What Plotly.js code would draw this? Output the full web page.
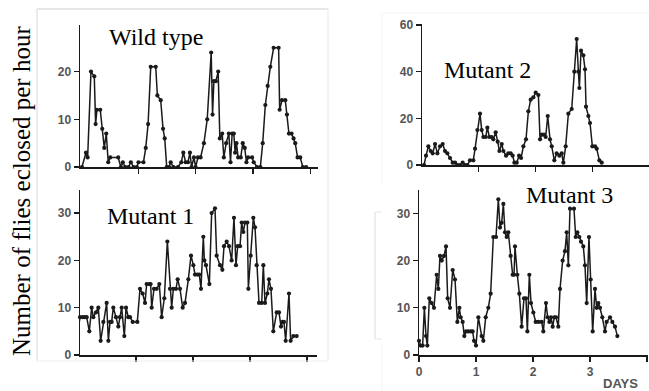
<!DOCTYPE html>
<html>
<head>
<meta charset="utf-8">
<script src="https://cdn.plot.ly/plotly-3.0.1.min.js"></script>
<style>html,body{margin:0;padding:0;background:#fff;}#chart{width:649px;height:391px;}</style>
</head>
<body>
<div id="chart"></div>
<script>
// ---------- DATA (days, flies eclosed per hour) ----------
const wildDays = [0.017,0.087,0.116,0.174,0.232,0.255,0.278,0.336,0.371,0.406,
0.441,0.475,0.510,0.649,0.696,0.730,0.771,0.829,0.870,0.916,
0.974,1.003,1.090,1.130,1.171,1.217,1.304,1.333,1.391,1.432,
1.461,1.496,1.536,1.565,1.612,1.693,1.751,1.786,1.826,1.867,
1.901,1.930,1.971,2.000,2.041,2.087,2.145,2.203,2.272,2.296,
2.319,2.354,2.394,2.423,2.464,2.493,2.533,2.580,2.609,2.638,
2.667,2.690,2.713,2.742,2.788,2.823,2.858,2.887,2.916,2.986,
3.014,3.072,3.130,3.171,3.217,3.258,3.304,3.362,3.449,3.467,
3.507,3.565,3.594,3.629,3.675,3.710,3.739,3.780,3.826,3.872,3.930];
const wildFlies = [0,3,2,20,19,9,12,12,8,4,
7,1,2,2,0,1,0,0,1,0,
0,1,1,4,9,21,21,15,14,8,
6,0,0,1,0,0,1,3,1,1,
3,0,2,0,2,2,5,10,24,11,
18,18,20,6,7,2,5,7,1,7,
7,3,5,2,2,5,4,1,2,2,
1,0,0,5,13,17,21,25,25,12,
14,14,11,7,7,6,5,2,2,0,0];

const mut1Days = [-0.029,0.018,0.064,0.105,0.135,0.181,0.222,0.251,0.298,0.339,
0.380,0.427,0.485,0.515,0.544,0.573,0.602,0.649,0.690,0.719,
0.749,0.795,0.825,0.865,0.895,0.942,1.023,1.070,1.117,1.158,
1.187,1.234,1.257,1.275,1.316,1.363,1.409,1.450,1.497,1.550,
1.596,1.626,1.655,1.702,1.731,1.772,1.819,1.860,1.918,1.965,
2.006,2.035,2.076,2.111,2.140,2.181,2.199,2.228,2.287,2.327,
2.386,2.415,2.474,2.515,2.544,2.591,2.632,2.678,2.719,2.754,
2.784,2.825,2.854,2.883,2.912,2.953,2.971,3.012,3.058,3.088,
3.117,3.158,3.205,3.234,3.263,3.304,3.333,3.368,3.409,3.468,
3.509,3.544,3.573,3.596,3.626,3.684,3.713,3.760,3.819];
const mut1Flies = [4,8,8,8,8,5,10,8,9,10,
3,7,11,3,7,7,10,8,6,8,
10,4,10,8,8,7,7,14,13,11,
15,15,15,10,14,14,15,8,12,24,
14,10,14,14,16,14,10,11,16,21,
19,17,17,17,14,25,20,19,15,30,
31,21,19,18,23,24,23,20,29,19,
23,23,28,26,28,28,14,21,29,27,
19,11,11,19,11,13,16,14,5,9,
9,6,7,7,3,13,3,4,4];

const mut2Days = [0.000,0.041,0.076,0.117,0.158,0.193,0.234,0.275,0.322,0.368,
0.409,0.450,0.497,0.544,0.585,0.626,0.673,0.719,0.760,0.801,
0.848,0.906,0.936,0.977,1.023,1.053,1.082,1.123,1.152,1.187,
1.228,1.257,1.298,1.333,1.363,1.404,1.433,1.480,1.520,1.561,
1.596,1.626,1.667,1.708,1.743,1.784,1.830,1.871,1.912,1.959,
2.000,2.047,2.076,2.105,2.146,2.175,2.211,2.251,2.281,2.327,
2.368,2.415,2.456,2.485,2.526,2.573,2.632,2.678,2.719,2.749,
2.766,2.795,2.836,2.865,2.883,2.924,2.953,2.994,3.041,3.070,
3.117,3.158];
const mut2Flies = [0,0,4,8,6,5,9,5,8,9,
6,5,3,1,1,0,0,1,0,0,
2,2,7,15,22,15,12,12,16,12,
12,11,14,10,6,9,6,4,5,5,
4,1,1,4,3,8,11,23,28,29,
31,30,11,13,13,12,21,11,8,2,
5,4,5,1,8,22,24,40,54,40,
33,49,47,41,25,21,18,8,8,7,
2,1];

const mut3Days = [0.000,0.029,0.064,0.094,0.123,0.146,0.181,0.222,0.263,0.310,
0.339,0.368,0.398,0.439,0.474,0.503,0.544,0.591,0.632,0.673,
0.708,0.731,0.766,0.795,0.825,0.865,0.912,0.942,0.965,1.000,
1.041,1.099,1.129,1.170,1.216,1.257,1.304,1.351,1.392,1.421,
1.450,1.480,1.509,1.538,1.567,1.608,1.643,1.667,1.684,1.725,
1.760,1.801,1.842,1.877,1.901,1.936,1.965,2.006,2.047,2.094,
2.152,2.181,2.228,2.257,2.287,2.316,2.345,2.374,2.404,2.444,
2.474,2.520,2.561,2.591,2.620,2.649,2.719,2.749,2.778,2.813,
2.842,2.883,2.912,2.942,2.982,3.012,3.047,3.088,3.117,3.146,
3.175,3.216,3.263,3.292,3.351,3.392,3.439,3.480];
const mut3Flies = [3,2,2,10,4,2,12,11,10,17,
14,21,20,21,23,12,10,18,16,7,
10,8,7,4,5,5,5,5,3,2,
8,4,3,8,10,13,25,25,33,27,
28,32,26,25,26,21,17,17,23,17,
13,6,12,12,5,17,11,9,7,7,
7,5,11,8,7,8,6,8,8,6,
14,20,22,26,19,31,31,25,26,25,
24,23,19,11,25,16,5,14,10,11,
10,8,5,7,8,7,6,4];

const panelTitles = ["Wild type","Mutant 1","Mutant 2","Mutant 3"];
const yTicksWild = [0,10,20];
const yTicksMut1 = [0,10,20,30];
const yTicksMut2 = [0,20,40,60];
const yTicksMut3 = [0,10,20,30];
const dayTicks = [0,1,2,3,4];
const yAxisTitle = "Number of flies eclosed per hour";
const xAxisTitle = "DAYS";

// ---------- LAYOUT GEOMETRY ----------
const W = 649, H = 391;
const fx = p => p / W, fy = p => 1 - p / H;
// origin (ox,oy), px per day (sx), px per unit (sy), box edges
const geo = [
  {ox:81, oy:167, sx:57.3, sy:4.77, xL:80, xR:318, yB:167, yT:25},
  {ox:79, oy:355, sx:57.0, sy:4.73, xL:80, xR:317, yB:355, yT:190},
  {ox:421.7, oy:165, sx:57.0, sy:2.333, xL:422, xR:649, yB:165, yT:24},
  {ox:419, oy:355, sx:57.0, sy:4.72, xL:419, xR:648, yB:355, yT:190}
];
const series = [[wildDays,wildFlies],[mut1Days,mut1Flies],[mut2Days,mut2Flies],[mut3Days,mut3Flies]];
const yTicks = [yTicksWild,yTicksMut1,yTicksMut2,yTicksMut3];

const ink = '#1a1a1a';
const tickFont = {family:'Liberation Sans, Arial, sans-serif', size:12, color:'#555', weight:'bold'};
const data = [];
const layout = {
  width: W, height: H,
  margin: {l:0, r:0, t:0, b:0},
  paper_bgcolor: '#fff', plot_bgcolor: 'rgba(0,0,0,0)',
  showlegend: false,
  annotations: [], shapes: []
};

series.forEach((s, i) => {
  const n = i === 0 ? '' : String(i + 1);
  const g = geo[i];
  data.push({
    x: s[0], y: s[1], xaxis: 'x' + n, yaxis: 'y' + n,
    type: 'scatter', mode: 'lines+markers', cliponaxis: false,
    line: {color: ink, width: 1.5},
    marker: {color: ink, size: 4.2}
  });
  layout['xaxis' + n] = {
    domain: [fx(g.xL), fx(g.xR)],
    range: [(g.xL - g.ox) / g.sx, (g.xR - g.ox) / g.sx],
    anchor: 'y' + n, showgrid: false, zeroline: false,
    showline: true, linecolor: ink, linewidth: 1.5,
    ticks: 'outside', ticklen: 5, tickwidth: 1.3, tickcolor: ink,
    tickmode: 'array', tickvals: i === 3 ? dayTicks : dayTicks.slice(1),
    showticklabels: i === 3, tickfont: {family:'Liberation Sans, Arial, sans-serif', size:12, color:'#555', weight:'bold'}
  };
  layout['yaxis' + n] = {
    domain: [fy(g.yB), fy(g.yT)],
    range: [(g.oy - g.yB) / g.sy, (g.oy - g.yT) / g.sy],
    anchor: 'x' + n, showgrid: false, zeroline: false,
    showline: true, linecolor: ink, linewidth: 1.5,
    ticks: 'outside', ticklen: 5, tickwidth: 1.3, tickcolor: ink,
    tickmode: 'array', tickvals: yTicks[i], tickfont: tickFont
  };
});

const titlePos = [[107,37],[105,216],[442,70],[524,195]];
panelTitles.forEach((t, i) => {
  layout.annotations.push({
    text: t, xref: 'paper', yref: 'paper', x: fx(titlePos[i][0]), y: fy(titlePos[i][1]),
    xanchor: 'left', yanchor: 'middle', showarrow: false,
    font: {family: 'Liberation Serif, Times New Roman, serif', size: 24, color: '#000'}
  });
});
layout.annotations.push({
  text: yAxisTitle, xref: 'paper', yref: 'paper', x: fx(21), y: fy(191),
  xanchor: 'center', yanchor: 'middle', textangle: -90, showarrow: false,
  font: {family: 'Liberation Serif, Times New Roman, serif', size: 25, color: '#000'}
});
layout.annotations.push({
  text: xAxisTitle, xref: 'paper', yref: 'paper', x: fx(620), y: fy(383),
  xanchor: 'center', yanchor: 'middle', showarrow: false,
  font: {family: 'Liberation Sans, Arial, sans-serif', size: 13, color: '#555', weight: 'bold'}
});

// faint frames around the scanned panels
const frame = (x0,y0,x1,y1,c) => ({type:'line', xref:'paper', yref:'paper',
  x0:fx(x0), y0:fy(y0), x1:fx(x1), y1:fy(y1), line:{color:c, width:1}});
layout.shapes.push(
  frame(37,9,328,9,'#cfcfcf'), frame(37,9,37,361,'#d8d8d8'), frame(328,9,328,361,'#e6e6e6'),
  frame(37,361,328,361,'#f0f0f0'),
  frame(382,13,649,13,'#f3f3f3'), frame(382,13,382,183,'#f3f3f3'),
  frame(375,212,375,339,'#dcdcdc'), frame(375,212,382,212,'#e6e6e6'), frame(375,339,382,339,'#e6e6e6'),
  frame(382,345,382,391,'#f3f3f3')
);

Plotly.newPlot('chart', data, layout, {staticPlot: true, displayModeBar: false});
</script>
</body>
</html>
